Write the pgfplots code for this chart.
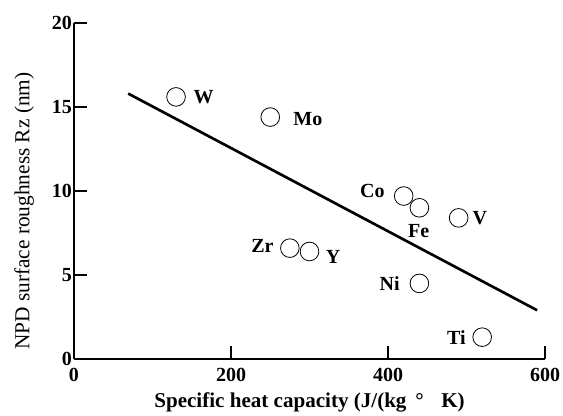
\documentclass[border=0pt]{standalone}
\usepackage{fontspec}
\setmainfont{Liberation Serif}
\usepackage{pgfplots}
\pgfplotsset{compat=1.18}

\begin{document}
\begin{tikzpicture}
\begin{axis}[
  scale only axis,
  width=353.25pt, height=252pt,
  xmin=0, xmax=600, ymin=0, ymax=20,
  axis x line*=bottom, axis y line*=left,
  axis line style={line width=2pt, -},
  xtick={0,200,400,600}, ytick={0,5,10,15,20},
  tick align=inside,
  major tick length=9.5pt,
  tick style={line width=0.8pt, black},
  /pgf/number format/assume math mode=true,
  tick label style={font=\fontsize{15}{15}\selectfont\bfseries},
  xticklabel style={yshift=-3pt},
  yticklabel style={xshift=2pt},
  xlabel={\textbf{Specific heat capacity (J/(kg\, ° \,\, K)}},
  xlabel style={font=\fontsize{15.8}{16}\selectfont, yshift=-2pt},
  every axis y label/.style={at={(axis description cs:-0.106,0.44)}, rotate=90,
    anchor=center, font=\fontsize{16}{16}\selectfont},
  ylabel={NPD surface roughness Rz (nm)},
  clip=false,
]
% regression line
\addplot[black, line width=2pt] coordinates {(69,15.8) (590,2.9)};
% metals
\addplot[only marks, mark=o, mark size=7pt, mark options={line width=0.6pt, black}]
  coordinates {
    (130,15.6) (250,14.4) (420,9.7) (440,9.0) (490,8.4)
    (275,6.6) (300,6.4) (440,4.5) (520,1.3)
  };
\begin{scope}[every node/.style={font=\fontsize{15}{15}\selectfont\bfseries}]
\node at (axis cs:165,15.6) {W};
\node at (axis cs:298,14.3) {Mo};
\node at (axis cs:380,10.0) {Co};
\node at (axis cs:439,7.6) {Fe};
\node at (axis cs:517,8.4) {V};
\node at (axis cs:240,6.7) {Zr};
\node at (axis cs:330,6.1) {Y};
\node at (axis cs:402,4.5) {Ni};
\node at (axis cs:487,1.3) {Ti};
\end{scope}
\end{axis}
\pgfresetboundingbox
\path[use as bounding box] (-55.5pt,-42.75pt) rectangle (366.75pt,269.25pt);
\end{tikzpicture}
\end{document}
